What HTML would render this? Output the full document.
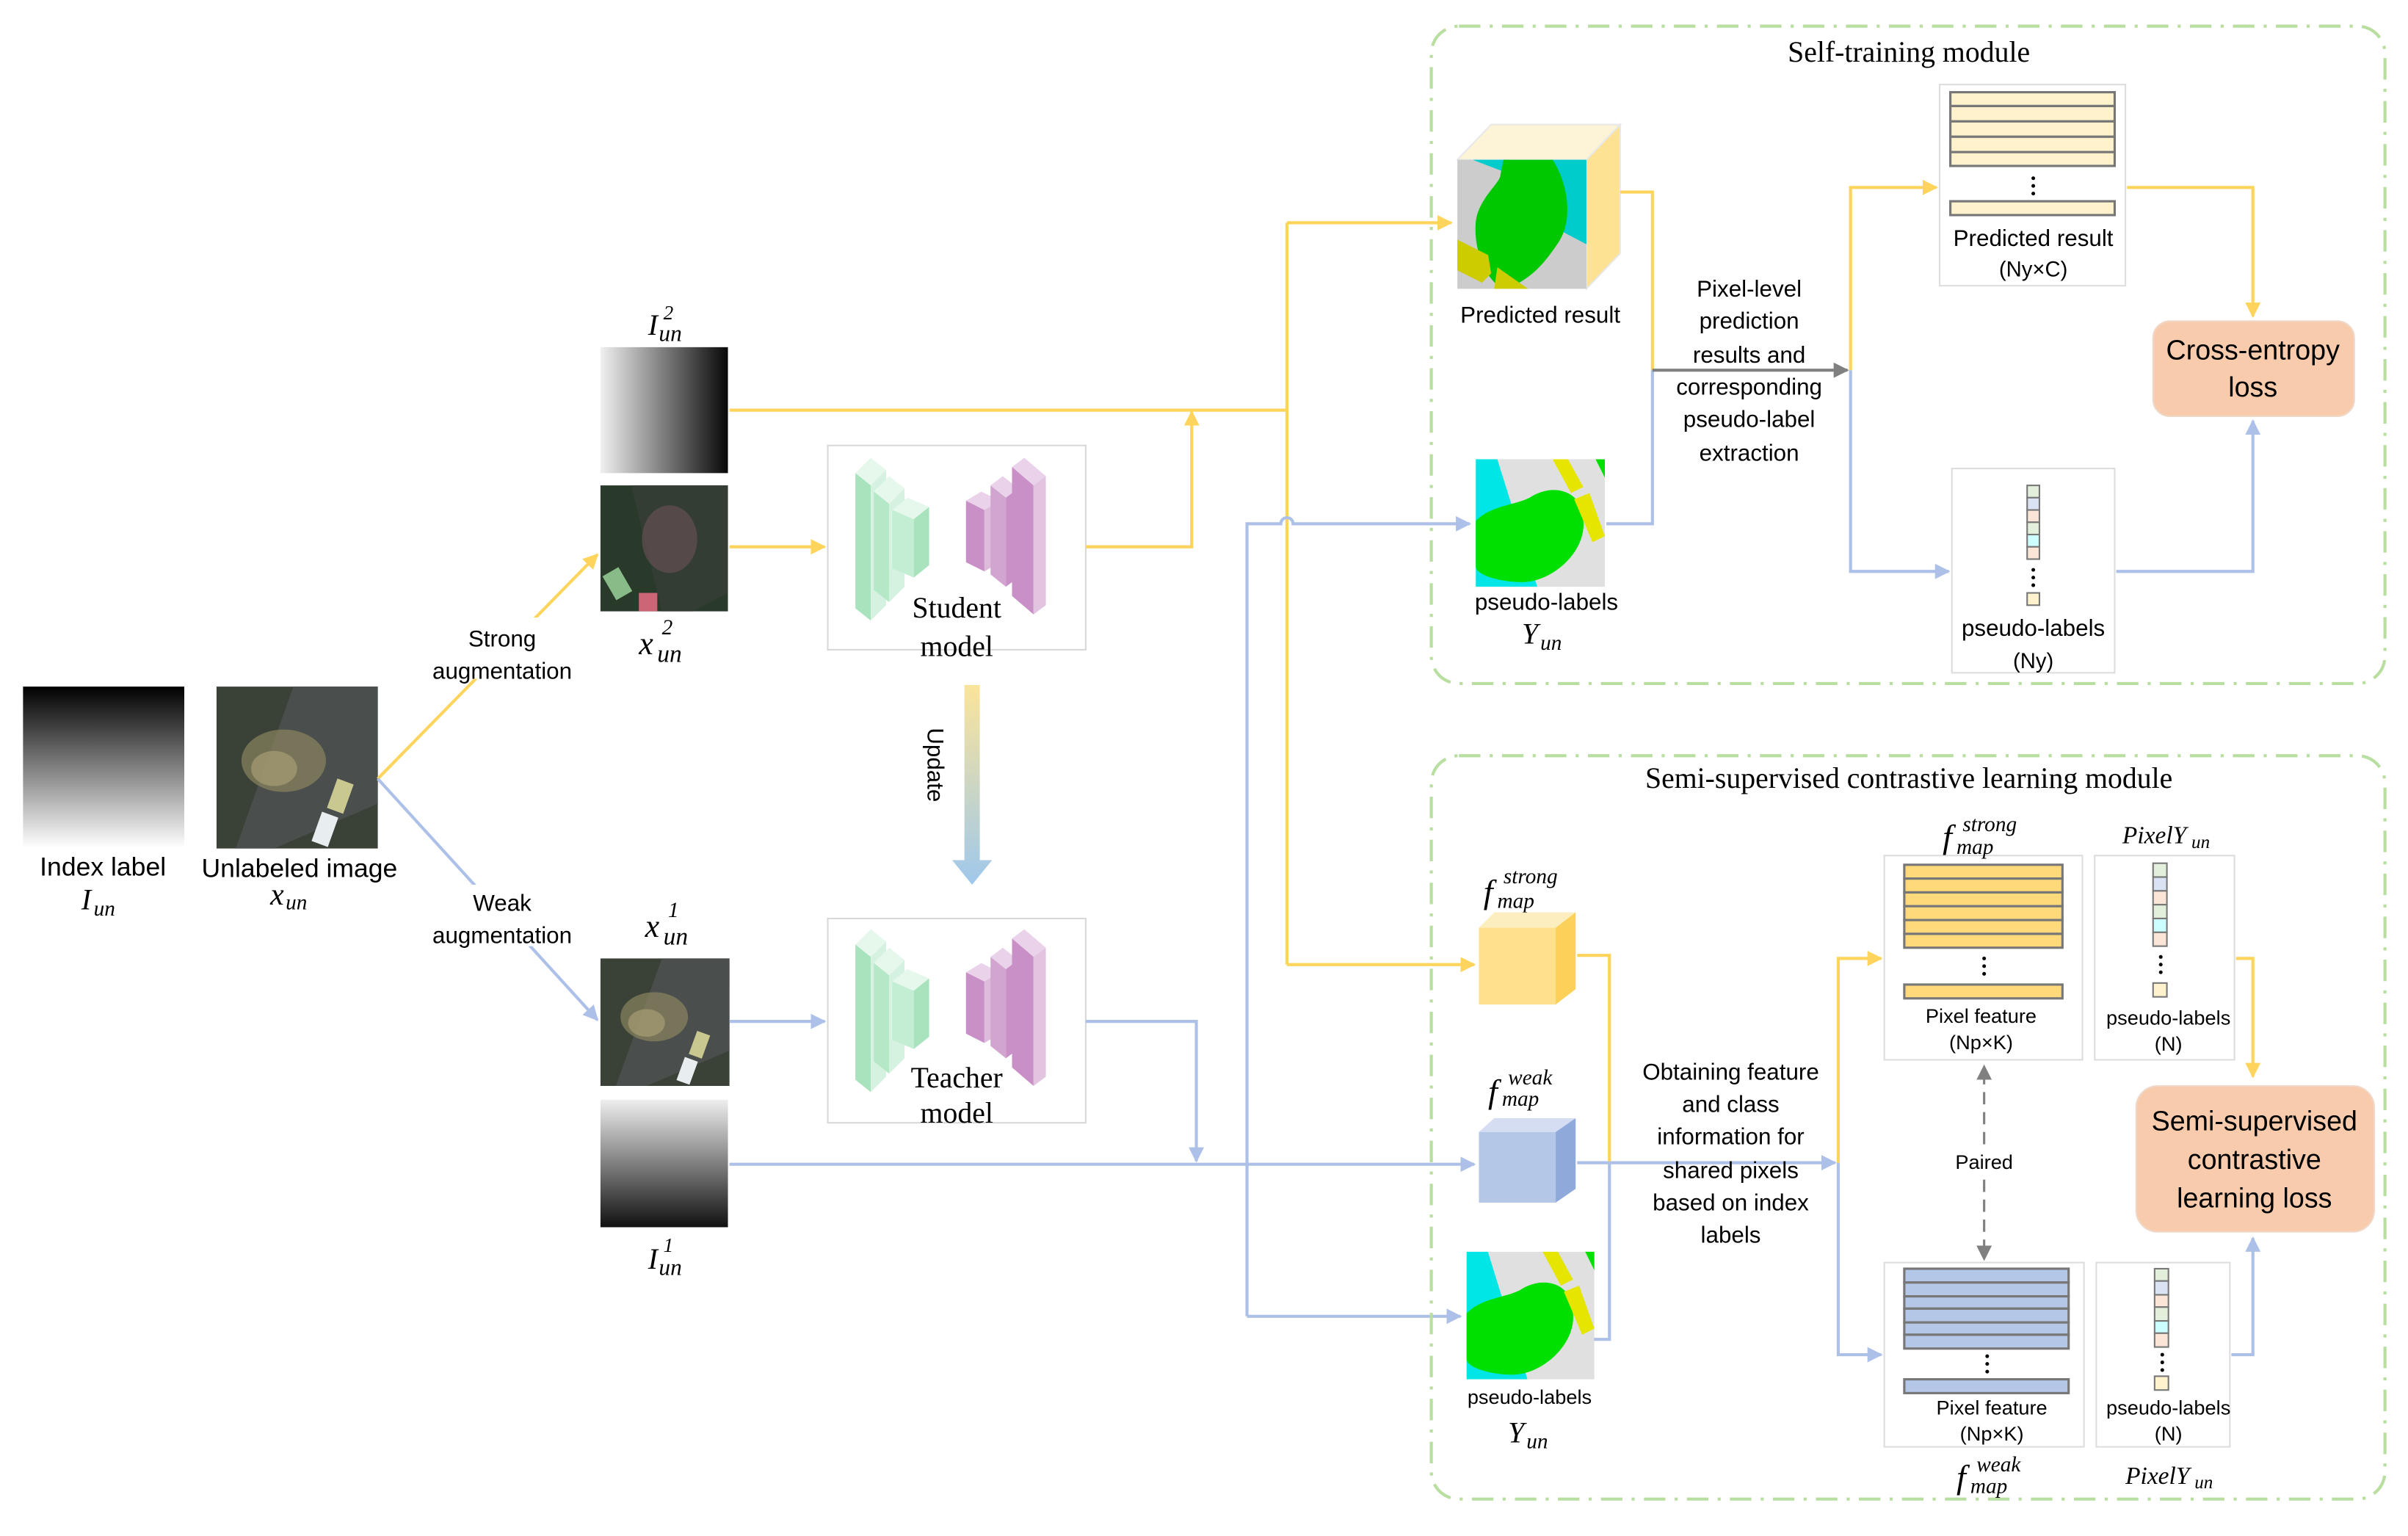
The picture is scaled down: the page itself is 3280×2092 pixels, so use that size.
<!DOCTYPE html>
<html><head><meta charset="utf-8"><style>
html,body{margin:0;padding:0;background:#fff;}
svg{display:block;}
.s{font-family:"Liberation Sans","DejaVu Sans",sans-serif;}
.m{font-family:"Liberation Serif","DejaVu Serif",serif;font-style:italic;}
.t{font-family:"Liberation Serif","DejaVu Serif",serif;}
</style></head><body>
<svg width="3280" height="2092" viewBox="0 0 1568 1000" xmlns="http://www.w3.org/2000/svg">
<defs>
<linearGradient id="gv" x1="0" y1="0" x2="0" y2="1"><stop offset="0" stop-color="#000"/><stop offset="1" stop-color="#fff"/></linearGradient>
<linearGradient id="gv2" x1="0" y1="0" x2="0" y2="1"><stop offset="0" stop-color="#eee"/><stop offset="1" stop-color="#111"/></linearGradient>
<linearGradient id="gh" x1="0" y1="0" x2="1" y2="0"><stop offset="0" stop-color="#f0f0f0"/><stop offset="1" stop-color="#080808"/></linearGradient>
<linearGradient id="gu" x1="0" y1="0" x2="0" y2="1"><stop offset="0" stop-color="#fbe49a"/><stop offset="1" stop-color="#9fc8ec"/></linearGradient>
<marker id="ay" markerWidth="10" markerHeight="10" refX="9" refY="5" orient="auto" markerUnits="userSpaceOnUse"><path d="M0,0 L10,5 L0,10 z" fill="#ffd45c"/></marker>
<marker id="ab" markerWidth="10" markerHeight="10" refX="9" refY="5" orient="auto" markerUnits="userSpaceOnUse"><path d="M0,0 L10,5 L0,10 z" fill="#adc0e8"/></marker>
<marker id="ag" markerWidth="10" markerHeight="10" refX="9" refY="5" orient="auto" markerUnits="userSpaceOnUse"><path d="M0,0 L10,5 L0,10 z" fill="#808080"/></marker>
<g id="aer">
<rect width="84" height="83" fill="#3a4238"/>
<path d="M40,0 L84,0 L84,60 L30,83 L10,83 Z" fill="#4a4e4c"/>
<ellipse cx="35" cy="38" rx="22" ry="16" fill="#8a8460" opacity="0.7"/>
<ellipse cx="30" cy="42" rx="12" ry="9" fill="#b0a47a" opacity="0.6"/>
<rect x="60" y="48" width="9" height="16" fill="#c8c890" transform="rotate(20 64 56)"/>
<rect x="52" y="65" width="9" height="16" fill="#e8eef0" transform="rotate(20 56 73)"/>
</g>
<g id="pl">
<rect width="84" height="83" fill="#e0e0e0"/>
<path d="M0,0 L14,0 L40,83 L0,83 Z" fill="#00e5e5"/>
<path d="M0,40 C10,30 25,30 35,25 C50,15 70,20 70,40 C72,60 50,80 30,80 C15,80 0,75 0,70 Z" fill="#00e000"/>
<path d="M50,0 L60,0 L70,18 L62,22 Z" fill="#e5e500"/>
<path d="M64,26 L74,22 L84,50 L76,54 Z" fill="#e5e500"/>
<path d="M78,0 L84,0 L84,12 Z" fill="#00e000"/>
</g>
<g id="net">
<!-- green slabs -->
<path d="M18,12 L28,2 L38,10 L28,20 Z" fill="#e6f7ec"/>
<path d="M18,12 L28,20 L28,108 L18,100 Z" fill="#a8e3bd"/>
<path d="M28,20 L38,10 L38,98 L28,108 Z" fill="#d5f2e0"/>
<path d="M30,24 L40,14 L50,22 L40,32 Z" fill="#e6f7ec"/>
<path d="M30,24 L40,32 L40,96 L30,88 Z" fill="#b4e8c7"/>
<path d="M40,32 L50,22 L50,86 L40,96 Z" fill="#d5f2e0"/>
<path d="M42,36 L52,28 L66,34 L56,42 Z" fill="#e6f7ec"/>
<path d="M42,36 L56,42 L56,80 L42,74 Z" fill="#c3eed3"/>
<path d="M56,42 L66,34 L66,72 L56,80 Z" fill="#a8e3bd"/>
<!-- purple slabs -->
<path d="M90,30 L100,24 L112,30 L102,36 Z" fill="#ead2ea"/>
<path d="M90,30 L102,36 L102,76 L90,70 Z" fill="#c98fc7"/>
<path d="M102,36 L112,30 L112,70 L102,76 Z" fill="#dcbbdb"/>
<path d="M106,20 L114,14 L124,22 L116,28 Z" fill="#ead2ea"/>
<path d="M106,20 L116,28 L116,86 L106,78 Z" fill="#d2a5d0"/>
<path d="M116,28 L124,22 L124,80 L116,86 Z" fill="#c98fc7"/>
<path d="M120,8 L128,2 L142,14 L134,20 Z" fill="#ead2ea"/>
<path d="M120,8 L134,20 L134,104 L120,92 Z" fill="#c98fc7"/>
<path d="M134,20 L142,14 L142,98 L134,104 Z" fill="#e2c4e1"/>
</g>
</defs>

<!-- left inputs -->
<rect x="15" y="447" width="105" height="105" fill="url(#gv)"/>
<use href="#aer" transform="translate(141,447) scale(1.25,1.27)"/>
<text class="s" x="67" y="570" font-size="17" text-anchor="middle">Index label</text>
<text class="m" x="53" y="592" font-size="19">I</text><text class="m" x="61" y="596" font-size="14">un</text>
<text class="s" x="195" y="571" font-size="17" text-anchor="middle">Unlabeled image</text>
<text class="m" x="176" y="589" font-size="20">x</text><text class="m" x="186" y="592" font-size="14">un</text>

<line x1="246" y1="507" x2="389" y2="361" stroke="#ffd45c" stroke-width="2" marker-end="url(#ay)"/>
<line x1="246" y1="507" x2="389" y2="664" stroke="#adc0e8" stroke-width="2" marker-end="url(#ab)"/>
<rect x="280" y="402" width="95" height="40" fill="#fff"/>
<rect x="280" y="576" width="95" height="40" fill="#fff"/>
<text class="s" x="327" y="421" font-size="15" text-anchor="middle">Strong</text>
<text class="s" x="327" y="442" font-size="15" text-anchor="middle">augmentation</text>
<text class="s" x="327" y="593" font-size="15" text-anchor="middle">Weak</text>
<text class="s" x="327" y="614" font-size="15" text-anchor="middle">augmentation</text>

<rect x="391" y="226" width="83" height="82" fill="url(#gh)"/>
<g transform="translate(391,316)"><rect width="83" height="82" fill="#2a3a2a"/><path d="M20,0 L83,0 L83,70 L60,82 L40,82 Z" fill="#333d33"/><ellipse cx="45" cy="35" rx="18" ry="22" fill="#7a5560" opacity="0.5"/><rect x="5" y="55" width="12" height="18" fill="#88bb88" transform="rotate(-30 11 64)"/><rect x="25" y="70" width="12" height="12" fill="#cc6677"/></g>
<use href="#aer" transform="translate(391,624)"/>
<rect x="391" y="716" width="83" height="83" fill="url(#gv2)"/>
<text class="m" x="422" y="218" font-size="19">I</text><text class="m" x="432" y="208" font-size="13">2</text><text class="m" x="429" y="222" font-size="15">un</text>
<text class="m" x="416" y="426" font-size="21">x</text><text class="m" x="431" y="413" font-size="14">2</text><text class="m" x="428" y="431" font-size="16">un</text>
<text class="m" x="420" y="610" font-size="21">x</text><text class="m" x="435" y="597" font-size="14">1</text><text class="m" x="432" y="615" font-size="16">un</text>
<text class="m" x="422" y="826" font-size="19">I</text><text class="m" x="432" y="815" font-size="13">1</text><text class="m" x="429" y="830" font-size="15">un</text>

<!-- models -->
<rect x="539" y="290" width="168" height="133" fill="#fff" stroke="#d8d8d8"/>
<use href="#net" transform="translate(539,296)"/>
<text class="t" x="623" y="402" font-size="19" text-anchor="middle">Student</text>
<text class="t" x="623" y="427" font-size="19" text-anchor="middle">model</text>
<rect x="539" y="598" width="168" height="133" fill="#fff" stroke="#d8d8d8"/>
<use href="#net" transform="translate(539,603)"/>
<text class="t" x="623" y="708" font-size="19" text-anchor="middle">Teacher</text>
<text class="t" x="623" y="731" font-size="19" text-anchor="middle">model</text>
<path d="M628,446 L638,446 L638,560 L646,560 L633,576 L620,560 L628,560 Z" fill="url(#gu)"/>
<text class="s" x="604" y="498" font-size="15" text-anchor="middle" transform="rotate(90 604 498)">Update</text>

<!-- connectors left -->
<g fill="none" stroke="#ffd45c" stroke-width="2">
<line x1="475" y1="267" x2="838" y2="267"/>
<line x1="475" y1="356" x2="537" y2="356" marker-end="url(#ay)"/>
<polyline points="707,356 776,356 776,268" marker-end="url(#ay)"/>
<line x1="838" y1="145" x2="838" y2="628"/>
<line x1="838" y1="145" x2="945" y2="145" marker-end="url(#ay)"/>
<line x1="838" y1="628" x2="960" y2="628" marker-end="url(#ay)"/>
</g>
<g fill="none" stroke="#adc0e8" stroke-width="2">
<line x1="475" y1="665" x2="537" y2="665" marker-end="url(#ab)"/>
<polyline points="707,665 779,665 779,756" marker-end="url(#ab)"/>
<line x1="475" y1="758" x2="960" y2="758" marker-end="url(#ab)"/>
<path d="M812,857 L812,341 L834,341 A4,4 0 0 1 842,341 L957,341" marker-end="url(#ab)"/>
<line x1="812" y1="857" x2="951" y2="857" marker-end="url(#ab)"/>
</g>

<!-- top module -->
<rect x="932" y="17" width="621" height="428" rx="18" fill="none" stroke="#b8dea0" stroke-width="2" stroke-dasharray="14,6,2,6"/>
<text class="t" x="1243" y="40" font-size="19" text-anchor="middle">Self-training module</text>
<path d="M949,104 L971,81 L1055,81 L1033,104 Z" fill="#fdf4d8" stroke="#e8e8e8"/>
<path d="M1033,104 L1055,81 L1055,165 L1033,188 Z" fill="#fde293" stroke="#e8e8e8"/>
<g transform="translate(949,104)">
<rect width="84" height="84" fill="#cccccc"/>
<path d="M10,0 L34,0 L36,10 Z" fill="#00cccc"/>
<path d="M60,0 L84,0 L84,55 L65,45 Z" fill="#00cccc"/>
<path d="M30,0 L62,0 C72,15 76,40 65,55 C55,70 45,80 30,84 C20,80 10,60 12,40 C14,25 28,15 28,10 Z" fill="#00c800"/>
<path d="M0,52 L20,62 L22,74 L16,80 L0,72 Z" fill="#cccc00"/>
<path d="M26,70 L46,84 L24,84 Z" fill="#cccc00"/>
</g>
<text class="s" x="1003" y="210" font-size="15" text-anchor="middle">Predicted result</text>
<use href="#pl" transform="translate(961,299)"/>
<text class="s" x="1007" y="397" font-size="15" text-anchor="middle">pseudo-labels</text>
<text class="m" x="991" y="419" font-size="19">Y</text><text class="m" x="1003" y="423" font-size="14">un</text>

<polyline points="1055,125 1076,125 1076,241" fill="none" stroke="#ffd45c" stroke-width="2"/>
<polyline points="1046,341 1076,341 1076,241" fill="none" stroke="#adc0e8" stroke-width="2"/>
<line x1="1076" y1="241" x2="1203" y2="241" stroke="#808080" stroke-width="2" marker-end="url(#ag)"/>
<g class="s" font-size="15" text-anchor="middle">
<text x="1139" y="193">Pixel-level</text>
<text x="1139" y="214">prediction</text>
<text x="1139" y="236">results and</text>
<text x="1139" y="257">corresponding</text>
<text x="1139" y="278">pseudo-label</text>
<text x="1139" y="300">extraction</text>
</g>
<polyline points="1205,241 1205,122 1261,122" fill="none" stroke="#ffd45c" stroke-width="2" marker-end="url(#ay)"/>
<polyline points="1205,241 1205,372 1269,372" fill="none" stroke="#adc0e8" stroke-width="2" marker-end="url(#ab)"/>

<rect x="1263" y="55" width="121" height="131" fill="#fff" stroke="#ddd"/>
<g fill="#fff2cc" stroke="#777" stroke-width="1.5">
<rect x="1270" y="60" width="107" height="9"/><rect x="1270" y="69" width="107" height="10"/><rect x="1270" y="79" width="107" height="10"/><rect x="1270" y="89" width="107" height="10"/><rect x="1270" y="99" width="107" height="9"/>
<rect x="1270" y="131" width="107" height="9"/>
</g>
<g fill="#000"><circle cx="1324" cy="116" r="1.2"/><circle cx="1324" cy="121" r="1.2"/><circle cx="1324" cy="126" r="1.2"/></g>
<text class="s" x="1324" y="160" font-size="15" text-anchor="middle">Predicted result</text>
<text class="s" x="1324" y="180" font-size="14" text-anchor="middle">(Ny×C)</text>
<polyline points="1385,122 1467,122 1467,206" fill="none" stroke="#ffd45c" stroke-width="2" marker-end="url(#ay)"/>
<rect x="1402" y="209" width="131" height="62" rx="11" fill="#f8cbad" stroke="#efd8c8"/>
<text class="s" x="1467" y="234" font-size="18" text-anchor="middle">Cross-entropy</text>
<text class="s" x="1467" y="258" font-size="18" text-anchor="middle">loss</text>

<rect x="1271" y="305" width="106" height="133" fill="#fff" stroke="#ddd"/>
<g stroke="#777" stroke-width="1">
<rect x="1320" y="316" width="8" height="8" fill="#e2efda"/><rect x="1320" y="324" width="8" height="8" fill="#dae3f3"/><rect x="1320" y="332" width="8" height="8" fill="#fbe5d6"/><rect x="1320" y="340" width="8" height="8" fill="#e2efda"/><rect x="1320" y="348" width="8" height="8" fill="#ccffff"/><rect x="1320" y="356" width="8" height="8" fill="#fbe5d6"/>
<rect x="1320" y="386" width="8" height="8" fill="#fff2cc"/>
</g>
<g fill="#000"><circle cx="1324" cy="371" r="1.2"/><circle cx="1324" cy="376" r="1.2"/><circle cx="1324" cy="381" r="1.2"/></g>
<text class="s" x="1324" y="414" font-size="15" text-anchor="middle">pseudo-labels</text>
<text class="s" x="1324" y="435" font-size="14" text-anchor="middle">(Ny)</text>
<polyline points="1378,372 1467,372 1467,274" fill="none" stroke="#adc0e8" stroke-width="2" marker-end="url(#ab)"/>

<!-- bottom module -->
<rect x="932" y="492" width="621" height="484" rx="18" fill="none" stroke="#b8dea0" stroke-width="2" stroke-dasharray="14,6,2,6"/>
<text class="t" x="1243" y="513" font-size="19" text-anchor="middle">Semi-supervised contrastive learning module</text>
<text class="m" x="966" y="588" font-size="22">f</text><text class="m" x="979" y="575" font-size="14">strong</text><text class="m" x="975" y="591" font-size="14">map</text>
<path d="M963,604 L973,594 L1026,594 L1013,604 Z" fill="#fdeec0"/>
<path d="M1013,604 L1026,594 L1026,644 L1013,654 Z" fill="#fbd15a"/>
<rect x="963" y="604" width="50" height="50" fill="#ffe08c"/>
<text class="m" x="969" y="718" font-size="22">f</text><text class="m" x="982" y="706" font-size="14">weak</text><text class="m" x="978" y="720" font-size="14">map</text>
<path d="M963,737 L973,728 L1026,728 L1013,737 Z" fill="#d4ddf2"/>
<path d="M1013,737 L1026,728 L1026,774 L1013,783 Z" fill="#8fa9da"/>
<rect x="963" y="737" width="50" height="46" fill="#b4c7e7"/>
<use href="#pl" transform="translate(955,815) scale(0.99,1)"/>
<text class="s" x="996" y="914" font-size="13" text-anchor="middle">pseudo-labels</text>
<text class="m" x="982" y="939" font-size="19">Y</text><text class="m" x="994" y="943" font-size="14">un</text>

<polyline points="1027,622 1048,622 1048,757" fill="none" stroke="#ffd45c" stroke-width="2"/>
<polyline points="1038,872 1048,872 1048,757" fill="none" stroke="#adc0e8" stroke-width="2"/>
<line x1="1027" y1="757" x2="1195" y2="757" stroke="#adc0e8" stroke-width="2" marker-end="url(#ab)"/>
<g class="s" font-size="15" text-anchor="middle">
<text x="1127" y="703">Obtaining feature</text>
<text x="1127" y="724">and class</text>
<text x="1127" y="745">information for</text>
<text x="1127" y="767">shared pixels</text>
<text x="1127" y="788">based on index</text>
<text x="1127" y="809">labels</text>
</g>
<polyline points="1197,757 1197,624 1225,624" fill="none" stroke="#ffd45c" stroke-width="2" marker-end="url(#ay)"/>
<polyline points="1197,757 1197,882 1225,882" fill="none" stroke="#adc0e8" stroke-width="2" marker-end="url(#ab)"/>

<rect x="1227" y="557" width="129" height="133" fill="#fff" stroke="#ddd"/>
<g fill="#ffd97a" stroke="#777" stroke-width="1.5">
<rect x="1240" y="563" width="103" height="9"/><rect x="1240" y="572" width="103" height="9"/><rect x="1240" y="581" width="103" height="9"/><rect x="1240" y="590" width="103" height="9"/><rect x="1240" y="599" width="103" height="9"/><rect x="1240" y="608" width="103" height="9"/>
<rect x="1240" y="641" width="103" height="9"/>
</g>
<g fill="#000"><circle cx="1292" cy="624" r="1.2"/><circle cx="1292" cy="629" r="1.2"/><circle cx="1292" cy="634" r="1.2"/></g>
<text class="s" x="1290" y="666" font-size="13" text-anchor="middle">Pixel feature</text>
<text class="s" x="1290" y="683" font-size="13" text-anchor="middle">(Np×K)</text>
<rect x="1262" y="528" width="70" height="28" fill="#fff"/>
<text class="m" x="1265" y="552" font-size="22">f</text><text class="m" x="1278" y="541" font-size="14">strong</text><text class="m" x="1274" y="556" font-size="14">map</text>

<rect x="1364" y="557" width="91" height="133" fill="#fff" stroke="#ddd"/>
<g stroke="#777" stroke-width="1">
<rect x="1402" y="562" width="9" height="9" fill="#e2efda"/><rect x="1402" y="571" width="9" height="9" fill="#dae3f3"/><rect x="1402" y="580" width="9" height="9" fill="#fbe5d6"/><rect x="1402" y="589" width="9" height="9" fill="#e2efda"/><rect x="1402" y="598" width="9" height="9" fill="#ccffff"/><rect x="1402" y="607" width="9" height="9" fill="#fbe5d6"/>
<rect x="1402" y="640" width="9" height="9" fill="#fff2cc"/>
</g>
<g fill="#000"><circle cx="1407" cy="623" r="1.2"/><circle cx="1407" cy="628" r="1.2"/><circle cx="1407" cy="633" r="1.2"/></g>
<text class="s" x="1412" y="667" font-size="13" text-anchor="middle">pseudo-labels</text>
<text class="s" x="1412" y="684" font-size="13" text-anchor="middle">(N)</text>
<text class="m" x="1382" y="549" font-size="16">PixelY</text><text class="m" x="1427" y="552" font-size="12">un</text>
<polyline points="1456,624 1467,624 1467,701" fill="none" stroke="#ffd45c" stroke-width="2" marker-end="url(#ay)"/>
<rect x="1391" y="707" width="155" height="95" rx="14" fill="#f8cbad" stroke="#efd8c8"/>
<text class="s" x="1468" y="736" font-size="18" text-anchor="middle">Semi-supervised</text>
<text class="s" x="1468" y="761" font-size="18" text-anchor="middle">contrastive</text>
<text class="s" x="1468" y="786" font-size="18" text-anchor="middle">learning loss</text>
<polyline points="1453,882 1467,882 1467,806" fill="none" stroke="#adc0e8" stroke-width="2" marker-end="url(#ab)"/>

<rect x="1227" y="822" width="130" height="120" fill="#fff" stroke="#ddd"/>
<g fill="#b4c7e7" stroke="#777" stroke-width="1.5">
<rect x="1240" y="826" width="107" height="9"/><rect x="1240" y="835" width="107" height="9"/><rect x="1240" y="844" width="107" height="8"/><rect x="1240" y="852" width="107" height="9"/><rect x="1240" y="861" width="107" height="8"/><rect x="1240" y="869" width="107" height="9"/>
<rect x="1240" y="898" width="107" height="9"/>
</g>
<g fill="#000"><circle cx="1294" cy="883" r="1.2"/><circle cx="1294" cy="888" r="1.2"/><circle cx="1294" cy="893" r="1.2"/></g>
<text class="s" x="1297" y="921" font-size="13" text-anchor="middle">Pixel feature</text>
<text class="s" x="1297" y="938" font-size="13" text-anchor="middle">(Np×K)</text>
<text class="m" x="1274" y="969" font-size="22">f</text><text class="m" x="1287" y="958" font-size="14">weak</text><text class="m" x="1283" y="972" font-size="14">map</text>

<rect x="1365" y="822" width="87" height="120" fill="#fff" stroke="#ddd"/>
<g stroke="#777" stroke-width="1">
<rect x="1403" y="826" width="9" height="8" fill="#e2efda"/><rect x="1403" y="834" width="9" height="9" fill="#dae3f3"/><rect x="1403" y="843" width="9" height="8" fill="#fbe5d6"/><rect x="1403" y="851" width="9" height="9" fill="#e2efda"/><rect x="1403" y="860" width="9" height="8" fill="#ccffff"/><rect x="1403" y="868" width="9" height="9" fill="#fbe5d6"/>
<rect x="1403" y="896" width="9" height="9" fill="#fff2cc"/>
</g>
<g fill="#000"><circle cx="1408" cy="882" r="1.2"/><circle cx="1408" cy="887" r="1.2"/><circle cx="1408" cy="892" r="1.2"/></g>
<text class="s" x="1412" y="921" font-size="13" text-anchor="middle">pseudo-labels</text>
<text class="s" x="1412" y="938" font-size="13" text-anchor="middle">(N)</text>
<text class="m" x="1384" y="966" font-size="16">PixelY</text><text class="m" x="1429" y="969" font-size="12">un</text>

<line x1="1292" y1="745" x2="1292" y2="694" stroke="#808080" stroke-width="1.5" stroke-dasharray="8,5" marker-end="url(#ag)"/>
<line x1="1292" y1="768" x2="1292" y2="820" stroke="#808080" stroke-width="1.5" stroke-dasharray="8,5" marker-end="url(#ag)"/>
<text class="s" x="1292" y="761" font-size="13" text-anchor="middle">Paired</text>
</svg>
</body></html>
